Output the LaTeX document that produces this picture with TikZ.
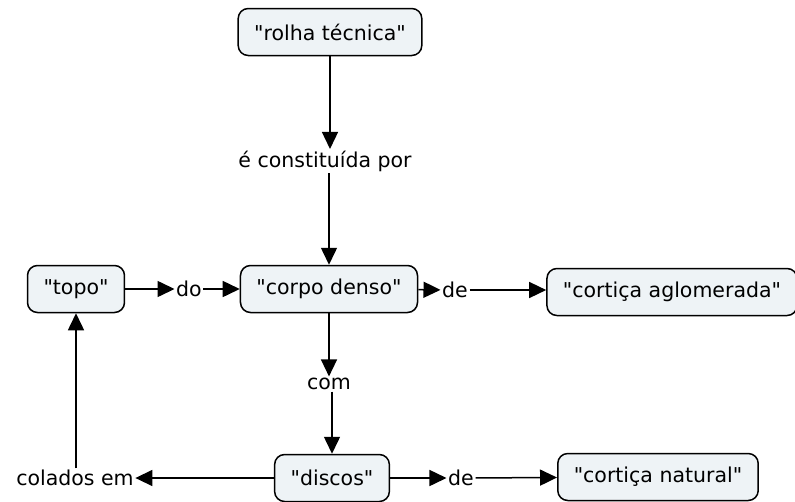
\documentclass[tikz,border=0pt]{standalone}
\usepackage{fontspec}
\setmainfont{DejaVu Sans}
\usetikzlibrary{arrows.meta}
\definecolor{conceptfill}{HTML}{EEF3F6}
\newcommand\quoted[1]{\textquotedbl#1\textquotedbl}
\begin{document}
\begin{tikzpicture}[
		x=1pt,
		y=-1pt,
		every node/.style={
				font=\fontsize{20.5}{24}\selectfont
			},
		concept/.style={
				draw,
				line width=1.5pt,
				rounded corners=10pt,
				fill=conceptfill,
				minimum height=47pt,
				inner xsep=16pt
			},
		link/.style={
				inner sep=1.5pt
			},
		arr/.style={
				line width=1.5pt,
				-{Triangle[length=17pt,width=16pt]}
			}
	]
	\useasboundingbox (0,0) rectangle (795,501);
	% concepts
	\node[concept] (rolha) at (330,32) {\quoted{rolha técnica}};
	\node[concept] (topo) at (76,289) {\quoted{topo}};
	\node[concept] (corpo) at (329,289) {\quoted{corpo denso}};
	\node[concept] (aglomerada) at (672,292) {\quoted{cortiça aglomerada}};
	\node[concept] (discos) at (332,478) {\quoted{discos}};
	\node[concept] (natural) at (658,477) {\quoted{cortiça natural}};
	% linking phrases
	\node[link] (constituida) at (325,161) {é constituída por};
	\node[link] (do) at (189,289) {do};
	\node[link] (deA) at (455,290) {de};
	\node[link] (com) at (329,384) {com};
	\node[link] (colados) at (75,478) {colados em};
	\node[link] (deB) at (461,478) {de};
	% connectors
	\draw[arr] (rolha) -- (rolha |- constituida.north);
	\draw[arr] (constituida.south -| corpo) -- (corpo);
	\draw[arr] (topo) -- (do);
	\draw[arr] (do) -- (corpo);
	\draw[arr] (corpo) -- (deA);
	\draw[arr] (deA) -- (aglomerada.west |- deA);
	\draw[arr] (corpo) -- (corpo |- com.north);
	\draw[arr] (com.south -| discos) -- (discos);
	\draw[arr] (discos) -- (colados);
	\draw[arr] (colados.north -| topo) -- (topo);
	\draw[arr] (discos) -- (deB);
	\draw[arr] (deB) -- (natural);
\end{tikzpicture}
\end{document}
